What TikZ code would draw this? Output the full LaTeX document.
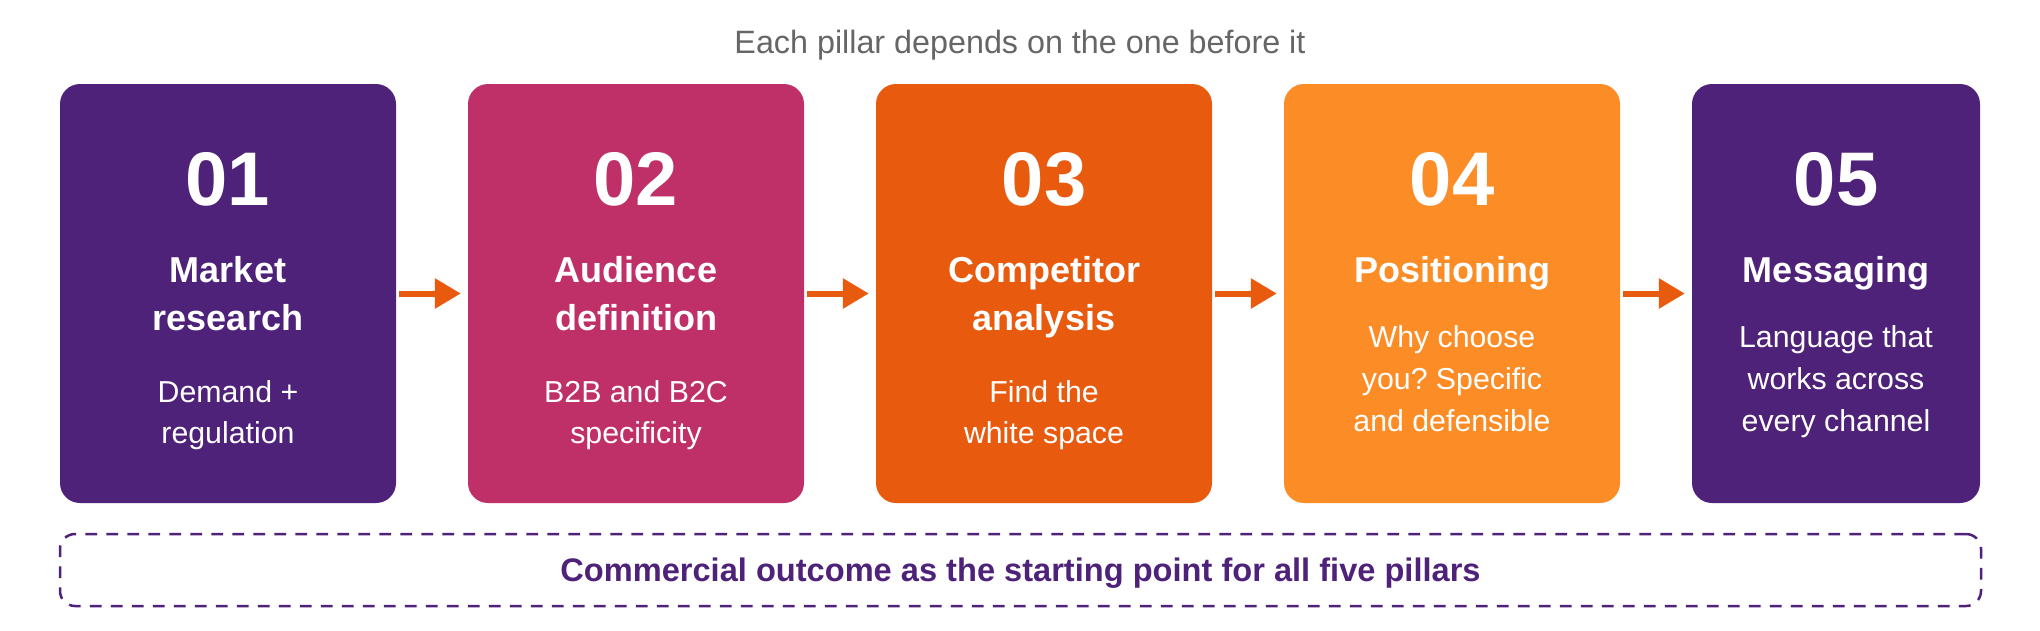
\documentclass[tikz,border=0pt]{standalone}
\usepackage{fontspec}
\setmainfont{Liberation Sans}
\usetikzlibrary{arrows.meta}
\frenchspacing
\definecolor{cpurple}{HTML}{4F2279}
\definecolor{cmagenta}{HTML}{C03068}
\definecolor{corange}{HTML}{E85A0E}
\definecolor{clight}{HTML}{FC8C26}
\definecolor{cgray}{HTML}{666666}
\begin{document}
\begin{tikzpicture}[x=1pt,y=-1pt,
  pillar/.style={rectangle,rounded corners=20pt,minimum height=419pt,inner sep=0pt,draw=none},
  num/.style={anchor=base,text=white,font=\fontsize{76}{76}\selectfont\bfseries,inner sep=0pt},
  ttl/.style={anchor=base,text=white,font=\fontsize{36}{36}\selectfont\bfseries,inner sep=0pt},
  dsc/.style={anchor=base,text=white,font=\fontsize{30.3}{30.3}\selectfont,inner sep=0pt},
  arr/.style={draw=corange,line width=6pt,-{Triangle[length=26pt,width=29pt]}},
  headline/.style={anchor=base,text=cgray,font=\fontsize{32.3}{32.3}\selectfont,inner sep=0pt},
  basebox/.style={rectangle,rounded corners=15pt,draw=cpurple,line width=2.5pt,dash pattern=on 11.7pt off 9.3pt,minimum width=1921pt,minimum height=72pt,text=cpurple,font=\fontsize{32.6}{32.6}\selectfont\bfseries,text height=23.3pt,text depth=0pt},
]
\useasboundingbox (0,0) rectangle (2040,630);

\node[headline] (head) at (1020,53.3) {Each pillar depends on the one before it};

% pillars
\node[pillar,fill=cpurple,minimum width=336pt] (b1) at (228,293.5) {};
\node[pillar,fill=cmagenta,minimum width=336pt] (b2) at (636,293.5) {};
\node[pillar,fill=corange,minimum width=336pt] (b3) at (1044,293.5) {};
\node[pillar,fill=clight,minimum width=336pt] (b4) at (1452,293.5) {};
\node[pillar,fill=cpurple,minimum width=288pt] (b5) at (1836,293.5) {};

% pillar 1
\node[num] (n1) at (228,205) {01};
\node[ttl] (t1a) at (228,282) {Market};
\node[ttl] (t1b) at (228,330) {research};
\node[dsc] (d1a) at (228,402) {Demand +};
\node[dsc] (d1b) at (228,443.5) {regulation};

% pillar 2
\node[num] (n2) at (636,205) {02};
\node[ttl] (t2a) at (636,282) {Audience};
\node[ttl] (t2b) at (636,330) {definition};
\node[dsc] (d2a) at (636,402) {B2B and B2C};
\node[dsc] (d2b) at (636,443.5) {specificity};

% pillar 3
\node[num] (n3) at (1044,205) {03};
\node[ttl] (t3a) at (1044,282) {Competitor};
\node[ttl] (t3b) at (1044,330) {analysis};
\node[dsc] (d3a) at (1044,402) {Find the};
\node[dsc] (d3b) at (1044,443.5) {white space};

% pillar 4
\node[num] (n4) at (1452,205) {04};
\node[ttl] (t4a) at (1452,282) {Positioning};
\node[dsc] (d4a) at (1452,347.5) {Why choose};
\node[dsc] (d4b) at (1452,389.5) {you? Specific};
\node[dsc] (d4c) at (1452,431.5) {and defensible};

% pillar 5
\node[num] (n5) at (1836,205) {05};
\node[ttl] (t5a) at (1836,282) {Messaging};
\node[dsc] (d5a) at (1836,347.5) {Language that};
\node[dsc] (d5b) at (1836,389.5) {works across};
\node[dsc] (d5c) at (1836,431.5) {every channel};

% arrows
\draw[arr] ([xshift=3pt]b1.east) -- ([xshift=-7pt]b2.west);
\draw[arr] ([xshift=3pt]b2.east) -- ([xshift=-7pt]b3.west);
\draw[arr] ([xshift=3pt]b3.east) -- ([xshift=-7pt]b4.west);
\draw[arr] ([xshift=3pt]b4.east) -- ([xshift=-7pt]b5.west);

% foundation
\node[basebox] (base) at (1020.5,570) {Commercial outcome as the starting point for all five pillars};
\end{tikzpicture}
\end{document}
